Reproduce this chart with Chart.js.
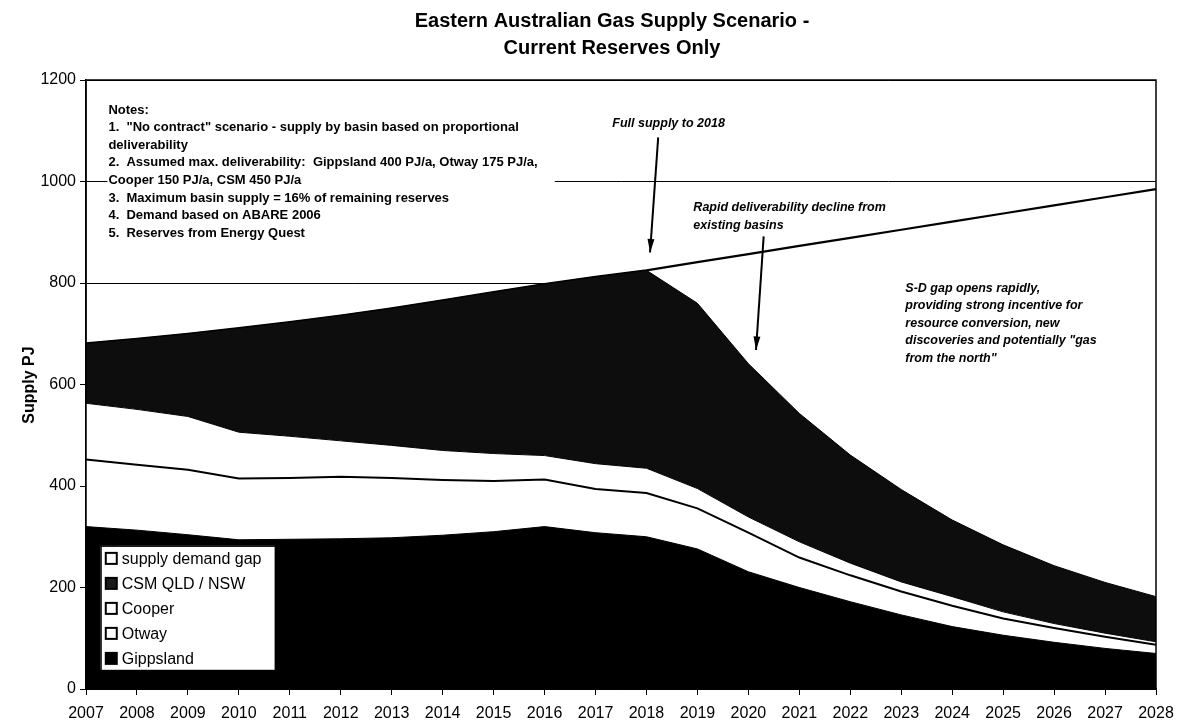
<!DOCTYPE html>
<html>
<head>
<meta charset="utf-8">
<script src="https://cdn.jsdelivr.net/npm/chart.js@4"></script>
<style>
  body { margin: 0; background: #fff; }
  #wrap { width: 1184px; height: 726px; }
</style>
</head>
<body>
<div id="wrap"><canvas id="gas" width="1184" height="726"></canvas></div>
<script>
// years on the category axis
const years = ["2007","2008","2009","2010","2011","2012","2013","2014","2015","2016","2017",
               "2018","2019","2020","2021","2022","2023","2024","2025","2026","2027","2028"]

// supply by basin, PJ
const gippsland = [320,313,304,294,295,296,298,303,310,320,308,300,276,231,200,172,146,123,106,92,80,70]
const otway     = [132,129,128,121,121,122,118,109,100,93,86,86,80,77,59,52,46,41,33,28,23,17]
const cooper    = [111,109,105,91,82,71,64,58,54,47,50,49,39,31,31,24,19,18,13,9,7,6]
const csm       = [118,139,163,205,225,247,270,296,318,338,368,390,365,302,253,213,182,151,132,114,100,89]
const gap       = [0,0,0,0,0,0,0,0,0,0,0,0,81,216,330,428,512,588,653,710,759,803]

const yTicks = [0, 200, 400, 600, 800, 1000, 1200]

const titleLines = ["Eastern Australian Gas Supply Scenario -", "Current Reserves Only"]
const notes = [
    "Notes:",
    "1.  \"No contract\" scenario - supply by basin based on proportional",
    "deliverability",
    "2.  Assumed max. deliverability:  Gippsland 400 PJ/a, Otway 175 PJ/a,",
    "Cooper 150 PJ/a, CSM 450 PJ/a",
    "3.  Maximum basin supply = 16% of remaining reserves",
    "4.  Demand based on ABARE 2006",
    "5.  Reserves from Energy Quest"
]
const legendItems = [
    { label: "supply demand gap", fill: "#fff" },
    { label: "CSM QLD / NSW", fill: "#1a1a1a" },
    { label: "Cooper", fill: "#fff" },
    { label: "Otway", fill: "#fff" },
    { label: "Gippsland", fill: "#000" }
]

const FONT = '"Liberation Sans", Arial, sans-serif'

function arrow(ctx, x1, y1, x2, y2) {
    ctx.beginPath()
    ctx.moveTo(x1, y1)
    ctx.lineTo(x2, y2)
    ctx.lineWidth = 2
    ctx.strokeStyle = "#000"
    ctx.stroke()
    const a = Math.atan2(y2 - y1, x2 - x1)
    ctx.beginPath()
    ctx.moveTo(x2, y2)
    ctx.lineTo(x2 - 14 * Math.cos(a - 0.25), y2 - 14 * Math.sin(a - 0.25))
    ctx.lineTo(x2 - 14 * Math.cos(a + 0.25), y2 - 14 * Math.sin(a + 0.25))
    ctx.closePath()
    ctx.fillStyle = "#000"
    ctx.fill()
}

const extras = {
    id: "extras",
    afterDraw(chart) {
        const ctx = chart.ctx
        const xs = chart.scales.x, ys = chart.scales.y
        const px = yr => xs.getPixelForValue(yr - 2007)
        const py = v => ys.getPixelForValue(v)
        const area = chart.chartArea
        ctx.save()

        // frame round the plot
        ctx.strokeStyle = "#000"
        ctx.lineWidth = 1.5
        ctx.strokeRect(area.left, area.top, area.right - area.left, area.bottom - area.top)

        // title
        ctx.fillStyle = "#000"
        ctx.textAlign = "center"
        ctx.textBaseline = "middle"
        ctx.font = "bold 20px " + FONT
        ctx.fillText(titleLines[0], 612, 21)
        ctx.fillText(titleLines[1], 612, 48)

        // y title
        ctx.save()
        ctx.translate(30, 385)
        ctx.rotate(-Math.PI / 2)
        ctx.font = "bold 16px " + FONT
        ctx.fillText("Supply PJ", 0, 0)
        ctx.restore()

        // notes box
        ctx.fillStyle = "#fff"
        ctx.fillRect(px(2007.42), py(1170), px(2016.2) - px(2007.42), py(900) - py(1170))
        ctx.fillStyle = "#000"
        ctx.textAlign = "left"
        ctx.font = "bold 13px " + FONT
        notes.forEach((t, i) => ctx.fillText(t, px(2007.44), py(1141) + i * 17.6))

        // annotations
        ctx.font = "italic bold 12.5px " + FONT
        ctx.fillText("Full supply to 2018", px(2017.33), py(1115))
        arrow(ctx, px(2018.23), py(1087), px(2018.07), py(860))
        ctx.fillText("Rapid deliverability decline from", px(2018.92), py(948))
        ctx.fillText("existing basins", px(2018.92), py(914))
        arrow(ctx, px(2020.3), py(892), px(2020.15), py(668))
        const sd = ["S-D gap opens rapidly,", "providing strong incentive for",
                    "resource conversion, new", "discoveries and potentially \"gas",
                    "from the north\""]
        sd.forEach((t, i) => ctx.fillText(t, px(2023.08), py(790) + i * 17.5))

        // legend
        const lx = px(2007.29), ly = py(282)
        ctx.fillStyle = "#fff"
        ctx.fillRect(lx, ly, 174, 124)
        ctx.strokeStyle = "#000"
        ctx.lineWidth = 1
        ctx.strokeRect(lx + 0.5, ly + 0.5, 174, 124)
        ctx.font = "16px " + FONT
        legendItems.forEach((it, i) => {
            const cy = ly + 13 + i * 25
            ctx.fillStyle = it.fill
            ctx.fillRect(lx + 5, cy - 6, 11, 11)
            ctx.lineWidth = 2
            ctx.strokeStyle = "#000"
            ctx.strokeRect(lx + 5, cy - 6, 11, 11)
            ctx.fillStyle = "#000"
            ctx.fillText(it.label, lx + 21, cy + 1)
        })
        ctx.restore()
    }
}

const base = { pointRadius: 0, tension: 0, borderColor: "#000" }

new Chart(document.getElementById("gas"), {
    type: "line",
    data: {
        labels: years,
        datasets: [
            { ...base, label: "Gippsland", data: gippsland, backgroundColor: "#000", borderWidth: 1, fill: "origin" },
            { ...base, label: "Otway", data: otway, backgroundColor: "#fff", borderWidth: 2, fill: "-1" },
            { ...base, label: "Cooper", data: cooper, backgroundColor: "#fff", borderWidth: 1, fill: "-1" },
            { ...base, label: "CSM QLD / NSW", data: csm, backgroundColor: "#0d0d0d", borderWidth: 1, fill: "-1" },
            { ...base, label: "supply demand gap", data: gap, backgroundColor: "#fff", borderWidth: 2.2, fill: "-1" }
        ]
    },
    options: {
        responsive: false,
        animation: false,
        layout: { padding: { top: 80, right: 28, left: 0, bottom: 0 } },
        plugins: { legend: { display: false }, title: { display: false }, tooltip: { enabled: false } },
        scales: {
            x: {
                offset: false,
                grid: { display: true, drawOnChartArea: false, drawTicks: true, tickLength: 6, color: "#000" },
                border: { display: true, color: "#000", width: 1.5 },
                ticks: { color: "#000", font: { family: FONT, size: 16 }, autoSkip: false, maxRotation: 0, padding: 9 },
                afterFit: s => { s.height = 37 }
            },
            y: {
                stacked: true,
                min: 0,
                max: 1200,
                afterBuildTicks: s => { s.ticks = yTicks.map(v => ({ value: v })) },
                grid: { color: "#000", lineWidth: 1, tickLength: 6 },
                border: { display: true, color: "#000", width: 1.5 },
                ticks: { color: "#000", font: { family: FONT, size: 16 }, padding: 4, callback: v => String(v) },
                afterFit: s => { s.width = 86 }
            }
        }
    },
    plugins: [extras]
})
</script>
</body>
</html>
